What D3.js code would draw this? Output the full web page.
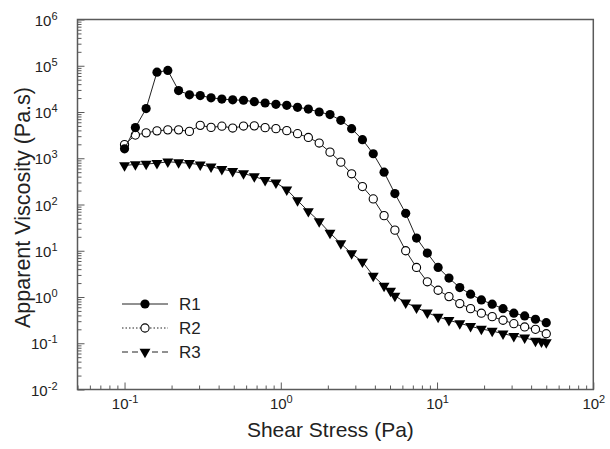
<!DOCTYPE html>
<html>
<head>
<meta charset="utf-8">
<script src="https://cdn.jsdelivr.net/npm/d3@7"></script>
<style>
  html, body { margin: 0; padding: 0; background: #fff; }
  svg { display: block; font-family: "Liberation Sans", Arial, sans-serif; }
</style>
</head>
<body>
<svg id="chart" width="610" height="449"></svg>
<script>
// Shear stress steps (Pa) shared by R1 and R2
const shearStress = [0.1, 0.1173, 0.1375, 0.1613, 0.1892, 0.2218, 0.2602, 0.3051, 0.3578, 0.4196,
  0.4922, 0.5772, 0.6769, 0.7938, 0.9309, 1.092, 1.280, 1.501, 1.761, 2.065,
  2.422, 2.840, 3.331, 3.906, 4.581, 5.373, 6.301, 7.389, 8.666, 10.16,
  11.92, 13.98, 16.39, 19.22, 22.54, 26.44, 31.00, 36.37, 42.65, 50.0];

// R3 was logged with two additional steps
const shearStressR3 = [0.1, 0.1173, 0.1375, 0.1613, 0.1892, 0.2218, 0.2602, 0.3051, 0.3578, 0.4196,
  0.4922, 0.5772, 0.6769, 0.7938, 0.9309, 1.092, 1.280, 1.501, 1.761, 2.065,
  2.422, 2.840, 3.331, 3.906, 4.581, 5.04, 5.373, 6.301, 7.389, 8.666, 10.16,
  11.92, 13.98, 16.39, 19.22, 22.54, 26.44, 31.00, 36.37, 42.65, 46.6, 50.0];

// Apparent viscosity (Pa.s)
const viscosityR1 = [1600, 4610, 11860, 72600, 79100, 29100, 23500, 22700, 20300, 19050,
  18300, 17950, 16700, 15670, 14690, 13970, 12640, 11560, 10000, 8790,
  6610, 4370, 2520, 1252, 499, 172, 64.4, 18.8, 8.91, 4.35,
  2.56, 1.60, 1.15, 0.865, 0.698, 0.560, 0.446, 0.389, 0.330, 0.279];

const viscosityR2 = [1970, 3170, 3540, 3910, 4110, 4110, 3810, 5140, 4650, 4940,
  4500, 4970, 5020, 4590, 4370, 3950, 3400, 2820, 2130, 1356,
  823, 461, 244, 132, 57.4, 27.9, 10.0, 4.35, 2.13, 1.40,
  1.02, 0.72, 0.56, 0.446, 0.376, 0.314, 0.265, 0.225, 0.200, 0.161];

const viscosityR3 = [698, 735, 752, 780, 840, 811, 780, 726, 654, 580,
  525, 468, 403, 335, 296, 210, 122, 71.3, 43.3, 24.2,
  14.4, 8.73, 5.77, 2.87, 1.74, 1.36, 1.06, 0.757, 0.589, 0.458,
  0.370, 0.314, 0.270, 0.233, 0.203, 0.184, 0.161, 0.143, 0.132, 0.112,
  0.108, 0.104];

const seriesNames = ["R1", "R2", "R3"];
const xTickExponents = [-1, 0, 1, 2];
const yTickExponents = [-2, -1, 0, 1, 2, 3, 4, 5, 6];
const xTitle = "Shear Stress (Pa)";
const yTitle = "Apparent Viscosity (Pa.s)";

const svg = d3.select("#chart");
const plotLeft = 77.5, plotRight = 593.3, plotTop = 19.5, plotBottom = 389.5;

const x = d3.scaleLog().domain([0.05, 100]).range([plotLeft, plotRight]);
const y = d3.scaleLog().domain([1e-2, 1e6]).range([plotBottom, plotTop]);

const axisColor = "#5a5a5a";
const textColor = "#222";

// minor tick values: 2..9 within each decade
function minorTicks(scale) {
  const [d0, d1] = scale.domain();
  const out = [];
  for (let e = Math.floor(Math.log10(d0)); e <= Math.ceil(Math.log10(d1)); e++) {
    for (let m = 2; m <= 9; m++) {
      const v = m * Math.pow(10, e);
      if (v >= d0 * 0.999 && v <= d1 * 1.001) out.push(v);
    }
  }
  return out;
}

function styleAxis(g) {
  g.select(".domain").remove();
  g.selectAll(".tick line").attr("stroke", axisColor).attr("stroke-width", 1);
}

// x axis ticks (pointing into the plot)
svg.append("g").attr("transform", `translate(0,${plotBottom})`)
  .call(d3.axisBottom(x).tickValues(minorTicks(x)).tickSize(-4).tickFormat(""))
  .call(styleAxis);
const xMajor = svg.append("g").attr("transform", `translate(0,${plotBottom})`)
  .call(d3.axisBottom(x).tickValues(xTickExponents.map(e => Math.pow(10, e))).tickSize(-7).tickFormat(""))
  .call(styleAxis);

// y axis ticks
svg.append("g").attr("transform", `translate(${plotLeft},0)`)
  .call(d3.axisLeft(y).tickValues(minorTicks(y)).tickSize(-4).tickFormat(""))
  .call(styleAxis);
const yMajor = svg.append("g").attr("transform", `translate(${plotLeft},0)`)
  .call(d3.axisLeft(y).tickValues(yTickExponents.map(e => Math.pow(10, e))).tickSize(-7).tickFormat(""))
  .call(styleAxis);

// power-of-ten labels with superscript exponent
function powerLabel(t, exp) {
  t.text(null);
  t.append("tspan").text("10");
  t.append("tspan").attr("font-size", 11).attr("dy", -6).text(String(exp));
}

xMajor.selectAll(".tick").each(function(d) {
  const t = d3.select(this).append("text")
    .attr("x", 0).attr("y", 19)
    .attr("text-anchor", "middle")
    .attr("fill", textColor).attr("font-size", 15);
  powerLabel(t, Math.round(Math.log10(d)));
});

yMajor.selectAll(".tick").each(function(d) {
  const t = d3.select(this).append("text")
    .attr("x", -20).attr("y", 5.5)
    .attr("text-anchor", "end")
    .attr("fill", textColor).attr("font-size", 15);
  powerLabel(t, Math.round(Math.log10(d)));
});

// plot frame
svg.append("rect")
  .attr("x", plotLeft).attr("y", plotTop)
  .attr("width", plotRight - plotLeft).attr("height", plotBottom - plotTop)
  .attr("fill", "none").attr("stroke", axisColor).attr("stroke-width", 1.5);

// titles
svg.append("text")
  .attr("x", (plotLeft + plotRight) / 2 - 5).attr("y", 437)
  .attr("text-anchor", "middle").attr("font-size", 21).attr("fill", textColor)
  .text(xTitle);
svg.append("text")
  .attr("transform", `translate(30,${(plotTop + plotBottom) / 2 + 3}) rotate(-90)`)
  .attr("text-anchor", "middle").attr("font-size", 21.5).attr("fill", textColor)
  .text(yTitle);

// series
const series = [
  { name: seriesNames[0], xs: shearStress, ys: viscosityR1, marker: "filled", dash: null },
  { name: seriesNames[1], xs: shearStress, ys: viscosityR2, marker: "open", dash: "1.5,2" },
  { name: seriesNames[2], xs: shearStressR3, ys: viscosityR3, marker: "triangle", dash: "6,4" }
];

const line = d3.line().x(d => x(d[0])).y(d => y(d[1]));
const triangle = d3.symbol().type(d3.symbolTriangle).size(52);

function drawMarker(g, marker, cx, cy) {
  if (marker === "filled") {
    g.append("circle").attr("cx", cx).attr("cy", cy).attr("r", 4.6).attr("fill", "#000");
  } else if (marker === "open") {
    g.append("circle").attr("cx", cx).attr("cy", cy).attr("r", 4.1)
      .attr("fill", "#fff").attr("stroke", "#000").attr("stroke-width", 1.1);
  } else {
    g.append("path").attr("d", triangle())
      .attr("transform", `translate(${cx},${cy}) rotate(180)`).attr("fill", "#000");
  }
}

series.slice().reverse().forEach(s => {
  const pts = s.xs.map((v, i) => [v, s.ys[i]]);
  const g = svg.append("g");
  g.append("path").datum(pts).attr("d", line)
    .attr("fill", "none").attr("stroke", "#222").attr("stroke-width", 1);
  pts.forEach(p => drawMarker(g, s.marker, x(p[0]), y(p[1])));
});

// legend
const legendRows = [304, 328, 352];
series.forEach((s, i) => {
  const g = svg.append("g");
  const ly = legendRows[i];
  g.append("line").attr("x1", 122).attr("x2", 168).attr("y1", ly).attr("y2", ly)
    .attr("stroke", "#222").attr("stroke-width", 1)
    .attr("stroke-dasharray", s.dash);
  drawMarker(g, s.marker, 145, ly);
  g.append("text").attr("x", 179).attr("y", ly + 6)
    .attr("font-size", 17).attr("fill", textColor).text(s.name);
});
</script>
</body>
</html>
